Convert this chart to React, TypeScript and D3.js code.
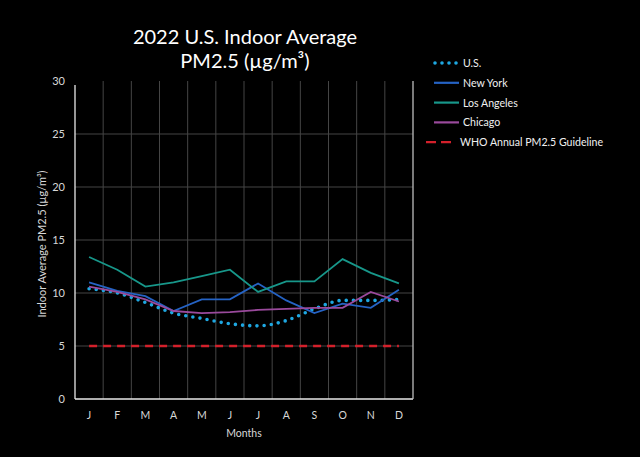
import React from "react";
import * as d3 from "d3";

const months = ["J", "F", "M", "A", "M", "J", "J", "A", "S", "O", "N", "D"];
const usValues = [10.4, 10.0, 9.1, 8.1, 7.6, 7.1, 6.9, 7.4, 8.5, 9.3, 9.3, 9.4];
const newYork = [11.0, 10.2, 9.7, 8.3, 9.4, 9.4, 10.9, 9.3, 8.1, 9.0, 8.6, 10.3];
const losAngeles = [13.4, 12.2, 10.6, 11.0, 11.6, 12.2, 10.1, 11.1, 11.1, 13.2, 11.9, 10.9];
const chicago = [10.6, 10.1, 9.4, 8.3, 8.1, 8.2, 8.4, 8.5, 8.6, 8.6, 10.1, 9.2];
const whoGuideline = [5, 5, 5, 5, 5, 5, 5, 5, 5, 5, 5, 5];
const yTicks = [0, 5, 10, 15, 20, 25, 30];
const legendLabels = ["U.S.", "New York", "Los Angeles", "Chicago", "WHO Annual PM2.5 Guideline"];

const W = 640;
const H = 457;
const FONT = "Lato, 'Open Sans', sans-serif";

export default function App() {
  const left = 75, right = 413, top = 81, bottom = 399;
  const x = d3.scaleBand<number>().domain(d3.range(12)).range([left, right]);
  const y = d3.scaleLinear().domain([0, 30]).range([bottom, top]);
  const cx = (i: number) => (x(i) as number) + x.bandwidth() / 2;

  const line = d3.line<number>().x((_, i) => cx(i)).y((d) => y(d));
  const smooth = d3.line<number>().x((_, i) => cx(i)).y((d) => y(d)).curve(d3.curveMonotoneX);

  const series = [
    { name: legendLabels[0], data: usValues, color: "#1ea7e1", kind: "dot" },
    { name: legendLabels[1], data: newYork, color: "#2563c4", kind: "solid" },
    { name: legendLabels[2], data: losAngeles, color: "#17978a", kind: "solid" },
    { name: legendLabels[3], data: chicago, color: "#9a4a9c", kind: "solid" },
    { name: legendLabels[4], data: whoGuideline, color: "#d3202b", kind: "dash" },
  ];

  const gridX = d3.range(1, 12).map((i) => x(i) as number);

  return (
    <svg width={W} height={H} style={{ position: "absolute", left: 0, top: 0, background: "#000" }} fontFamily={FONT}>
      <rect width={W} height={H} fill="#000" />
      {/* title */}
      <text x={245} y={44} textAnchor="middle" fill="#fff" fontSize={20}>2022 U.S. Indoor Average</text>
      <text x={245} y={68} textAnchor="middle" fill="#fff" fontSize={20}>PM2.5 (µg/m³)</text>

      {/* grid */}
      {yTicks.filter((t) => t > 0 && t < 30).map((t) => (
        <line key={"h" + t} x1={left} x2={right} y1={y(t)} y2={y(t)} stroke="#454545" strokeWidth={1} />
      ))}
      {gridX.map((gx, i) => (
        <line key={"v" + i} x1={gx} x2={gx} y1={top} y2={bottom} stroke="#454545" strokeWidth={1} />
      ))}

      {/* axes frame */}
      <line x1={left} x2={left} y1={top + 4} y2={bottom} stroke="#e8e8e8" strokeWidth={1.3} />
      <line x1={left} x2={right} y1={bottom} y2={bottom} stroke="#e8e8e8" strokeWidth={1.3} />
      <line x1={right} x2={right} y1={top} y2={bottom} stroke="#bdbdbd" strokeWidth={1.3} />

      {/* y tick labels */}
      {yTicks.map((t) => (
        <text key={"yt" + t} x={65} y={y(t) + 4} textAnchor="end" fill="#d8d8d8" fontSize={11}>{t}</text>
      ))}
      <text transform={`translate(46,${(top + bottom) / 2 + 4}) rotate(-90)`} textAnchor="middle" fill="#d8d8d8" fontSize={11}>
        Indoor Average PM2.5 (µg/m³)
      </text>

      {/* x tick labels */}
      {months.map((m, i) => (
        <text key={"xt" + i} x={cx(i)} y={419} textAnchor="middle" fill="#d8d8d8" fontSize={10.5}>{m}</text>
      ))}
      <text x={(left + right) / 2} y={437} textAnchor="middle" fill="#d8d8d8" fontSize={10.5}>Months</text>

      {/* series */}
      {series.map((s) => (
        <path
          key={s.name}
          d={(s.kind === "dot" ? smooth(s.data) : line(s.data)) || ""}
          fill="none"
          stroke={s.color}
          strokeWidth={s.kind === "dot" ? 3.6 : s.kind === "dash" ? 2.4 : 1.8}
          strokeDasharray={s.kind === "dot" ? "0 7.2" : s.kind === "dash" ? "8 6" : undefined}
          strokeLinecap={s.kind === "dot" ? "round" : "butt"}
        />
      ))}

      {/* legend */}
      {series.map((s, i) => {
        const ly = 65 + i * 19.8;
        const isWho = s.kind === "dash";
        const x1 = isWho ? 426 : 434;
        const x2 = isWho ? 456 : 459;
        return (
          <g key={"lg" + i}>
            <line
              x1={x1 + (s.kind === "dot" ? 1 : 0)}
              x2={x2}
              y1={ly - 2}
              y2={ly - 2}
              stroke={s.color}
              strokeWidth={s.kind === "dot" ? 3.6 : 2.2}
              strokeDasharray={s.kind === "dot" ? "0 7" : isWho ? "10 5" : undefined}
              strokeLinecap={s.kind === "dot" ? "round" : "butt"}
            />
            <text x={isWho ? 460 : 463} y={ly + 2} fill="#f0f0f0" fontSize={10.6}>{s.name}</text>
          </g>
        );
      })}
    </svg>
  );
}
